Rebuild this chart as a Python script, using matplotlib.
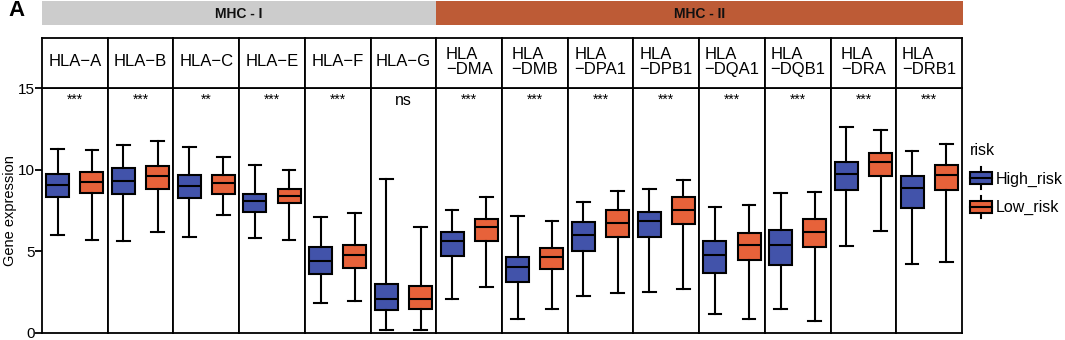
import matplotlib
matplotlib.use('Agg')
import matplotlib.pyplot as plt
from matplotlib.patches import Rectangle
from matplotlib.lines import Line2D
from matplotlib.legend_handler import HandlerBase

plt.rcParams['font.family'] = ['Liberation Sans', 'DejaVu Sans']

# ---------------- data ----------------
genes = ['HLA−A', 'HLA−B', 'HLA−C', 'HLA−E', 'HLA−F', 'HLA−G',
         'HLA\n−DMA', 'HLA\n−DMB', 'HLA\n−DPA1', 'HLA\n−DPB1',
         'HLA\n−DQA1', 'HLA\n−DQB1', 'HLA\n−DRA', 'HLA\n−DRB1']
signif = ['***', '***', '**', '***', '***', 'ns',
          '***', '***', '***', '***', '***', '***', '***', '***']
mhc_groups = ['MHC - I', 'MHC - II']
mhc_counts = [6, 8]

groups = ['High_risk', 'Low_risk']

high_whislo = [5.98, 5.65, 5.90, 5.83, 1.83, 0.16, 2.09, 0.83, 2.24, 2.50, 1.16, 1.48, 5.33, 4.23]
high_q1     = [8.33, 8.50, 8.25, 7.40, 3.60, 1.38, 4.74, 3.11, 5.02, 5.89, 3.70, 4.19, 8.74, 7.68]
high_med    = [9.09, 9.33, 8.98, 8.09, 4.41, 2.09, 5.63, 4.07, 6.00, 6.83, 4.80, 5.39, 9.72, 8.88]
high_q3     = [9.76, 10.10, 9.65, 8.50, 5.28, 2.97, 6.18, 4.67, 6.77, 7.38, 5.61, 6.30, 10.47, 9.59]
high_whishi = [11.28, 11.52, 11.40, 10.26, 7.11, 9.43, 7.56, 7.17, 8.05, 8.84, 7.74, 8.60, 12.60, 11.16]

low_whislo = [5.69, 6.16, 7.22, 5.69, 1.93, 0.20, 2.80, 1.50, 2.44, 2.72, 0.85, 0.71, 6.26, 4.33]
low_q1     = [8.60, 8.82, 8.54, 7.93, 3.96, 1.50, 5.61, 3.92, 5.89, 6.69, 4.49, 5.26, 9.59, 8.76]
low_med    = [9.25, 9.63, 9.17, 8.41, 4.80, 2.11, 6.48, 4.67, 6.75, 7.56, 5.39, 6.20, 10.47, 9.65]
low_q3     = [9.84, 10.20, 9.65, 8.84, 5.40, 2.87, 6.99, 5.20, 7.56, 8.31, 6.10, 6.97, 11.04, 10.26]
low_whishi = [11.18, 11.75, 10.77, 10.00, 7.32, 6.50, 8.33, 6.87, 8.68, 9.35, 7.85, 8.64, 12.40, 11.59]

yticks = [0, 5, 10, 15]

# ---------------- style ----------------
c_high = '#4253AA'
c_low = '#E7623A'
band_colors = ['#CCCCCC', '#BD5B36']
LW = 1.5

W, H = 1065, 340
fig = plt.figure(figsize=(W / 100, H / 100), dpi=100)

x_left, x_right = 42, 962
panel_w = (x_right - x_left) / len(genes)
y_top, y_bot = 88, 333
strip_top = 38
band_top, band_bot = 1, 25


def fx(px):
    return px / W


def fy(py):
    return 1 - py / H


stats_high = [dict(whislo=a, q1=b, med=c, q3=d, whishi=e, fliers=[])
              for a, b, c, d, e in zip(high_whislo, high_q1, high_med, high_q3, high_whishi)]
stats_low = [dict(whislo=a, q1=b, med=c, q3=d, whishi=e, fliers=[])
             for a, b, c, d, e in zip(low_whislo, low_q1, low_med, low_q3, low_whishi)]

axes = []
for i, gname in enumerate(genes):
    x0 = x_left + i * panel_w
    ax = fig.add_axes([fx(x0), fy(y_bot), fx(panel_w), (y_bot - y_top) / H])
    for st, pos, col in [(stats_high[i], 1, c_high), (stats_low[i], 2, c_low)]:
        ax.bxp([st], positions=[pos], widths=0.67, capwidths=0.37,
               patch_artist=True, showfliers=False,
               boxprops=dict(facecolor=col, edgecolor='black', linewidth=LW),
               medianprops=dict(color='black', linewidth=LW),
               whiskerprops=dict(color='black', linewidth=LW),
               capprops=dict(color='black', linewidth=LW))
    ax.set_xlim(0.538, 2.462)
    ax.set_ylim(0, 15)
    ax.set_xticks([])
    for s in ax.spines.values():
        s.set_linewidth(1.3)
    if i == 0:
        ax.set_yticks(yticks)
        ax.tick_params(axis='y', length=5, width=1.3, labelsize=11, pad=0)
        ax.set_ylabel('Gene expression', fontsize=10.5, labelpad=1)
    else:
        ax.set_yticks([])
    ax.text(1.5, 14.25, signif[i], ha='center', va='center',
            fontsize=10 if signif[i] != 'ns' else 11.5)
    axes.append(ax)

    # strip header
    sax = fig.add_axes([fx(x0), fy(y_top), fx(panel_w), (y_top - strip_top) / H])
    sax.set_xticks([])
    sax.set_yticks([])
    for s in sax.spines.values():
        s.set_linewidth(1.3)
    sax.text(0.5, 0.52, gname, ha='center', va='center', multialignment='left',
             fontsize=12, transform=sax.transAxes, linespacing=1.0)

# group bands
band_edges = [x_left, 436, 963]
for k, gname in enumerate(mhc_groups):
    bx0, bx1 = band_edges[k], band_edges[k + 1]
    bax = fig.add_axes([fx(bx0), fy(band_bot), fx(bx1 - bx0), (band_bot - band_top) / H])
    bax.set_facecolor(band_colors[k])
    bax.set_xticks([])
    bax.set_yticks([])
    for s in bax.spines.values():
        s.set_visible(False)
    bax.text(0.5, 0.45, gname, ha='center', va='center', fontsize=10,
             fontweight='bold', transform=bax.transAxes, color='#111111')

fig.text(fx(8), fy(11), 'A', fontsize=16, fontweight='bold', ha='left', va='center')


# legend with boxplot-style handles
class BoxHandler(HandlerBase):
    def create_artists(self, legend, orig_handle, xdescent, ydescent,
                       width, height, fontsize, trans):
        col = orig_handle.get_facecolor()
        x0 = -xdescent
        y0 = -ydescent
        ext = height * 0.4
        rect = Rectangle((x0, y0), width, height, facecolor=col,
                         edgecolor='black', linewidth=LW, transform=trans)
        med = Line2D([x0, x0 + width], [y0 + height / 2] * 2, color='black',
                     linewidth=LW, transform=trans)
        xm = x0 + width / 2
        w1 = Line2D([xm, xm], [y0 + height, y0 + height + ext], color='black',
                    linewidth=LW, transform=trans)
        w2 = Line2D([xm, xm], [y0 - ext, y0], color='black',
                    linewidth=LW, transform=trans)
        return [w1, w2, rect, med]


handles = [Rectangle((0, 0), 1, 1, facecolor=c) for c in [c_high, c_low]]
leg = fig.legend(handles, groups, title='risk', loc='upper left',
                 bbox_to_anchor=(fx(970), fy(143)), frameon=False,
                 fontsize=11.5, title_fontsize=11.5,
                 handler_map={Rectangle: BoxHandler()},
                 handlelength=1.4, handleheight=0.8, handletextpad=0.2,
                 labelspacing=0.85, borderaxespad=0, borderpad=0,
                 alignment='left')

fig.savefig('out.png', dpi=100)
